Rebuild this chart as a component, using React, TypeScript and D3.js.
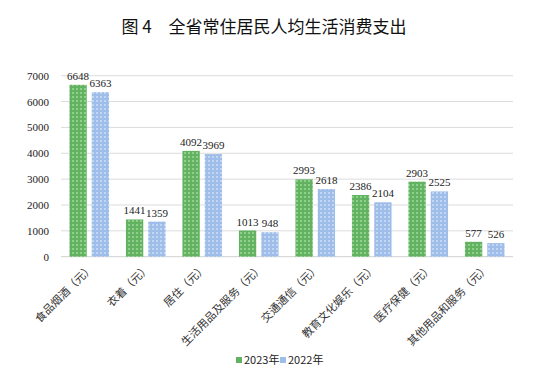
import React from "react";
import * as d3 from "d3";

const categories = ["食品烟酒（元）", "衣着（元）", "居住（元）", "生活用品及服务（元）", "交通通信（元）", "教育文化娱乐（元）", "医疗保健（元）", "其他用品和服务（元）"];
const values2023 = [6648, 1441, 4092, 1013, 2993, 2386, 2903, 577];
const values2022 = [6363, 1359, 3969, 948, 2618, 2104, 2525, 526];
const yTicks = [0, 1000, 2000, 3000, 4000, 5000, 6000, 7000];
const seriesNames = ["2023年", "2022年"];

const W = 539, H = 385;
const left = 61, right = 513, top = 75.7, bottom = 256.7;
const serif = "Liberation Serif, Times New Roman, serif";
const cjk = "Noto Sans CJK SC, sans-serif";

export default function App() {
  const x = d3.scaleBand<string>().domain(categories).range([left, right]).paddingInner(0).paddingOuter(0);
  const y = d3.scaleLinear().domain([0, 7000]).range([bottom, top]);
  const bw = 17.3;
  const gap = 5;
  const series = [values2023, values2022];
  const fills = ["url(#pg)", "url(#pb)"];
  return (
    <svg width={W} height={H} style={{ position: "absolute", left: 0, top: 0, background: "#fff" }}>
      <defs>
        <pattern id="pg" width="4" height="4" patternUnits="userSpaceOnUse">
          <rect width="4" height="4" fill="#62b262" />
          <rect x="0" y="0" width="2" height="2" fill="#8fd08c" />
        </pattern>
        <pattern id="pb" width="4" height="4" patternUnits="userSpaceOnUse">
          <rect width="4" height="4" fill="#9ebde9" />
          <rect x="0" y="0" width="2" height="2" fill="#c2d6f3" />
        </pattern>
      </defs>
      <text x={264} y={33} textAnchor="middle" fontFamily={cjk} fontSize={17} fontWeight="normal" fill="#111">
        图 4　全省常住居民人均生活消费支出
      </text>
      {yTicks.map((t) => (
        <g key={t}>
          <line x1={left} x2={right} y1={y(t)} y2={y(t)} stroke={t === 0 ? "#d0d0d0" : "#dcdcdc"} strokeWidth={1} />
          <text x={49} y={y(t) + 4} textAnchor="end" fontFamily={serif} fontSize={11} fill="#222">{t}</text>
        </g>
      ))}
      {categories.map((c, i) => {
        const cx = (x(c) as number) + x.bandwidth() / 2;
        return (
          <g key={c}>
            {series.map((s, k) => {
              const bx = k === 0 ? cx - gap / 2 - bw : cx + gap / 2;
              return (
                <g key={k}>
                  <rect x={bx} y={y(s[i])} width={bw} height={bottom - y(s[i])} fill={fills[k]} />
                  <text x={bx + bw / 2} y={y(s[i]) - 5} textAnchor="middle" fontFamily={serif} fontSize={11} fill="#222">{s[i]}</text>
                </g>
              );
            })}
            <text
              transform={`translate(${cx + 5},${bottom + 12}) rotate(-45)`}
              textAnchor="end"
              fontFamily={cjk}
              fontSize={11}
              fill="#333"
            >
              {c}
            </text>
          </g>
        );
      })}
      {seriesNames.map((n, k) => {
        const lx = k === 0 ? 236 : 280;
        return (
          <g key={n}>
            <rect x={lx} y={357} width={6} height={6} fill={k === 0 ? "#62b262" : "#9ebde9"} />
            <text x={lx + 8} y={364} fontFamily={cjk} fontSize={11} fill="#222">{n}</text>
          </g>
        );
      })}
    </svg>
  );
}
